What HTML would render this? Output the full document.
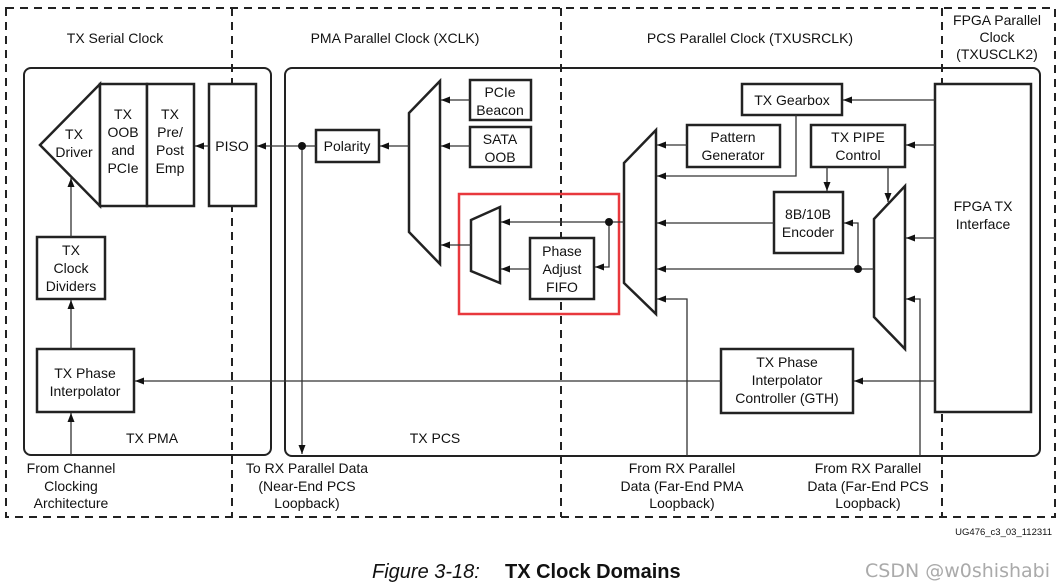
<!DOCTYPE html>
<html><head><meta charset="utf-8"><style>
html,body{margin:0;padding:0;background:#fff;}
svg{display:block;}
text{font-family:"Liberation Sans",Arial,sans-serif;font-size:14px;fill:#111;}
</style></head><body>
<svg width="1063" height="587" viewBox="0 0 1063 587" xmlns="http://www.w3.org/2000/svg">
<defs>
<marker id="a" markerUnits="userSpaceOnUse" markerWidth="10" markerHeight="8" refX="9" refY="4" orient="auto"><path d="M0,0.5 L9,4 L0,7.5 Z" fill="#111"/></marker>
</defs>
<!-- dashed domain frames -->
<g stroke="#222" stroke-width="2" stroke-dasharray="8,6" fill="none">
<rect x="6" y="8" width="1049" height="509"/>
<line x1="232" y1="8" x2="232" y2="517"/>
<line x1="561" y1="8" x2="561" y2="517"/>
<line x1="942" y1="8" x2="942" y2="517"/>
</g>
<!-- rounded blocks -->
<rect x="24" y="68" width="247" height="387" rx="7" fill="none" stroke="#222" stroke-width="2"/>
<rect x="285" y="68" width="755" height="388" rx="7" fill="none" stroke="#222" stroke-width="2"/>

<g stroke="#222" stroke-width="2.5" fill="#fff">
<polygon points="40,145 100,84 100,206"/>
<rect x="100" y="84" width="47" height="122"/>
<rect x="147" y="84" width="47" height="122"/>
<rect x="209" y="84" width="47" height="122"/>
<rect x="316" y="130" width="63" height="32"/>
<polygon points="409,113 440,81 440,264 409,232"/>
<rect x="470" y="80" width="61" height="40"/>
<rect x="470" y="127" width="61" height="40"/>
<polygon points="471,220 500,207 500,283 471,271"/>
<rect x="530" y="238" width="64" height="61"/>
<polygon points="624,163 656,130 656,314 624,283"/>
<rect x="742" y="84" width="100" height="31"/>
<rect x="687" y="125" width="93" height="42"/>
<rect x="811" y="125" width="94" height="42"/>
<rect x="774" y="192" width="69" height="61"/>
<polygon points="874,219 905,186 905,349 874,317"/>
<rect x="935" y="84" width="96" height="328"/>
<rect x="721" y="349" width="132" height="64"/>
<rect x="37" y="237" width="68" height="62"/>
<rect x="37" y="349" width="97" height="63"/>
</g>
<!-- red highlight -->
<rect x="459" y="194" width="160" height="120" fill="none" stroke="#e8383d" stroke-width="2.5"/>

<!-- connectors -->
<g stroke="#333" stroke-width="1.3" fill="none" marker-end="url(#a)">
<line x1="209" y1="146" x2="195" y2="146"/>
<line x1="316" y1="146" x2="257" y2="146"/>
<line x1="302" y1="146" x2="302" y2="454"/>
<line x1="409" y1="146" x2="380" y2="146"/>
<line x1="470" y1="100" x2="441" y2="100"/>
<line x1="470" y1="146" x2="441" y2="146"/>
<line x1="471" y1="245" x2="441" y2="245"/>
<line x1="624" y1="222" x2="501" y2="222"/>
<polyline points="609,222 609,267 595,267"/>
<line x1="530" y1="269" x2="501" y2="269"/>
<line x1="687" y1="145" x2="657" y2="145"/>
<polyline points="796,115 796,176 657,176"/>
<line x1="774" y1="223" x2="657" y2="223"/>
<line x1="874" y1="269" x2="657" y2="269"/>
<polyline points="687,456 687,299 657,299"/>
<polyline points="858,269 858,223 844,223"/>
<line x1="935" y1="100" x2="843" y2="100"/>
<line x1="935" y1="145" x2="906" y2="145"/>
<line x1="827" y1="167" x2="827" y2="191"/>
<line x1="888" y1="167" x2="888" y2="202"/>
<line x1="935" y1="238" x2="906" y2="238"/>
<polyline points="920,456 920,299 906,299"/>
<line x1="935" y1="381" x2="854" y2="381"/>
<line x1="721" y1="381" x2="135" y2="381"/>
<line x1="71" y1="455" x2="71" y2="413"/>
<line x1="71" y1="349" x2="71" y2="300"/>
<line x1="71" y1="237" x2="71" y2="178"/>
</g>
<circle cx="302" cy="146" r="4" fill="#111"/>
<circle cx="609" cy="222" r="4" fill="#111"/>
<circle cx="858" cy="269" r="4" fill="#111"/>

<!-- labels -->
<g text-anchor="middle">
<text x="115" y="43">TX Serial Clock</text>
<text x="395" y="43">PMA Parallel Clock (XCLK)</text>
<text x="750" y="43">PCS Parallel Clock (TXUSRCLK)</text>
<text x="997" y="25">FPGA Parallel</text>
<text x="997" y="42">Clock</text>
<text x="997" y="59">(TXUSCLK2)</text>

<text x="74" y="139">TX</text><text x="74" y="157">Driver</text>
<text x="123" y="119">TX</text><text x="123" y="137">OOB</text><text x="123" y="155">and</text><text x="123" y="173">PCIe</text>
<text x="170" y="119">TX</text><text x="170" y="137">Pre/</text><text x="170" y="155">Post</text><text x="170" y="173">Emp</text>
<text x="232" y="151">PISO</text>
<text x="347" y="151">Polarity</text>
<text x="500" y="97">PCIe</text><text x="500" y="115">Beacon</text>
<text x="500" y="144">SATA</text><text x="500" y="162">OOB</text>
<text x="562" y="256">Phase</text><text x="562" y="274">Adjust</text><text x="562" y="292">FIFO</text>
<text x="792" y="105">TX Gearbox</text>
<text x="733" y="142">Pattern</text><text x="733" y="160">Generator</text>
<text x="858" y="142">TX PIPE</text><text x="858" y="160">Control</text>
<text x="808" y="219">8B/10B</text><text x="808" y="237">Encoder</text>
<text x="983" y="211">FPGA TX</text><text x="983" y="229">Interface</text>
<text x="787" y="367">TX Phase</text><text x="787" y="385">Interpolator</text><text x="787" y="403">Controller (GTH)</text>
<text x="71" y="255">TX</text><text x="71" y="273">Clock</text><text x="71" y="291">Dividers</text>
<text x="85" y="378">TX Phase</text><text x="85" y="396">Interpolator</text>
<text x="152" y="443">TX PMA</text>
<text x="435" y="443">TX PCS</text>
<text x="71" y="473">From Channel</text><text x="71" y="491">Clocking</text><text x="71" y="508">Architecture</text>
<text x="307" y="473">To RX Parallel Data</text><text x="307" y="491">(Near-End PCS</text><text x="307" y="508">Loopback)</text>
<text x="682" y="473">From RX Parallel</text><text x="682" y="491">Data (Far-End PMA</text><text x="682" y="508">Loopback)</text>
<text x="868" y="473">From RX Parallel</text><text x="868" y="491">Data (Far-End PCS</text><text x="868" y="508">Loopback)</text>
</g>
<text x="1052" y="535" text-anchor="end" style="font-size:9.5px">UG476_c3_03_112311</text>
<text x="372" y="578" style="font-size:20px;font-style:italic">Figure 3-18:</text>
<text x="505" y="578" style="font-size:20px;font-weight:bold">TX Clock Domains</text>
<text x="1050" y="577" text-anchor="end" style="font-size:19px;fill:#aaa;font-family:'DejaVu Sans',sans-serif">CSDN @w0shishabi</text>
</svg>
</body></html>
